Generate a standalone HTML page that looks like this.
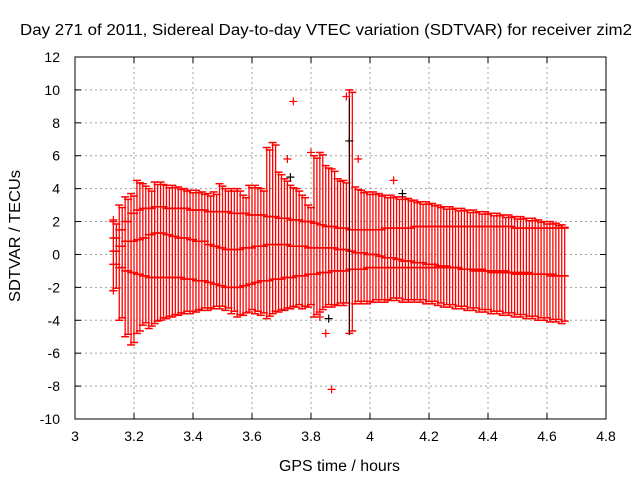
<!DOCTYPE html>
<html><head><meta charset="utf-8"><style>
body{margin:0;background:#fff;}
svg text{font-family:"Liberation Sans",sans-serif;font-size:14px;fill:#000;}
</style></head><body>
<svg id="chart" width="640" height="480" xmlns="http://www.w3.org/2000/svg">
<rect width="640" height="480" fill="#fff"/>
<text x="20" y="35" textLength="612" lengthAdjust="spacingAndGlyphs" style="font-size:15.5px">Day 271 of 2011, Sidereal Day-to-day VTEC variation (SDTVAR) for receiver zim2</text>
<text x="279" y="471" textLength="121" lengthAdjust="spacingAndGlyphs" style="font-size:15.5px">GPS time / hours</text>
<text transform="translate(20,302) rotate(-90)" textLength="132" lengthAdjust="spacingAndGlyphs" style="font-size:15.5px">SDTVAR / TECUs</text>
<g id="grid"></g><g id="marks"></g><g id="axes"></g>
</svg>
<script>
const xTicks=[3,3.2,3.4,3.6,3.8,4,4.2,4.4,4.6,4.8];
const yTicks=[-10,-8,-6,-4,-2,0,2,4,6,8,10,12];
const xStart=3.13, xStep=0.02;
const hi=[2.0,3.0,3.5,3.7,4.5,4.3,4.0,4.4,4.4,4.2,4.2,4.1,4.0,3.9,3.9,3.8,3.7,3.8,4.3,4.0,4.0,4.0,3.6,4.2,4.2,4.0,6.5,6.8,5.0,4.6,4.2,4.0,3.6,3.0,6.0,6.2,5.4,5.2,4.6,4.5,10.0,4.1,3.9,3.8,3.8,3.7,3.6,3.6,3.5,3.5,3.4,3.3,3.2,3.2,3.1,3.0,2.9,2.9,2.8,2.8,2.7,2.7,2.6,2.6,2.5,2.5,2.4,2.4,2.3,2.3,2.2,2.2,2.1,2.0,2.0,1.9,1.8];
const lo=[-2.2,-4.0,-5.0,-5.5,-4.8,-4.3,-4.5,-4.2,-4.0,-3.9,-3.8,-3.7,-3.6,-3.6,-3.5,-3.4,-3.4,-3.3,-3.3,-3.4,-3.6,-3.8,-3.7,-3.5,-3.6,-3.7,-3.9,-3.6,-3.5,-3.4,-3.3,-3.2,-3.3,-3.2,-3.8,-3.5,-3.2,-3.2,-3.1,-3.1,-4.8,-3.0,-3.0,-3.0,-2.9,-2.9,-2.9,-2.8,-2.8,-2.9,-2.9,-2.9,-2.9,-3.0,-3.0,-3.1,-3.2,-3.2,-3.3,-3.3,-3.4,-3.4,-3.5,-3.5,-3.6,-3.6,-3.7,-3.7,-3.8,-3.8,-3.9,-3.9,-4.0,-4.0,-4.1,-4.1,-4.2];
const upperInner=[1.0,1.5,2.0,2.5,2.7,2.8,2.8,2.9,2.9,2.8,2.8,2.8,2.8,2.7,2.7,2.7,2.6,2.6,2.6,2.6,2.5,2.5,2.5,2.4,2.4,2.4,2.3,2.3,2.2,2.2,2.1,2.1,2.0,2.0,1.9,1.8,1.7,1.7,1.6,1.6,1.5,1.5,1.5,1.5,1.5,1.5,1.6,1.6,1.6,1.6,1.6,1.7,1.7,1.7,1.7,1.7,1.7,1.7,1.7,1.7,1.7,1.7,1.7,1.7,1.7,1.7,1.7,1.7,1.6,1.6,1.6,1.6,1.6,1.6,1.6,1.6,1.6];
const midInner=[0.2,0.5,0.8,0.8,0.9,1.0,1.2,1.3,1.3,1.2,1.1,1.0,1.0,0.9,0.8,0.8,0.6,0.5,0.4,0.3,0.3,0.3,0.4,0.4,0.5,0.5,0.6,0.6,0.6,0.6,0.5,0.5,0.5,0.4,0.4,0.4,0.4,0.4,0.3,0.3,0.2,0.1,0.1,0.0,0.0,-0.1,-0.2,-0.2,-0.3,-0.4,-0.4,-0.5,-0.5,-0.6,-0.6,-0.7,-0.7,-0.8,-0.8,-0.9,-0.9,-1.0,-1.0,-1.0,-1.1,-1.1,-1.1,-1.1,-1.2,-1.2,-1.2,-1.2,-1.2,-1.2,-1.3,-1.3,-1.3];
const lowerInner=[-0.6,-0.8,-1.0,-1.1,-1.2,-1.3,-1.4,-1.4,-1.4,-1.4,-1.4,-1.4,-1.5,-1.5,-1.6,-1.6,-1.7,-1.8,-1.9,-2.0,-2.0,-2.0,-1.9,-1.8,-1.7,-1.6,-1.6,-1.5,-1.5,-1.4,-1.4,-1.3,-1.3,-1.2,-1.2,-1.1,-1.1,-1.0,-1.0,-1.0,-0.9,-0.9,-0.9,-0.8,-0.8,-0.8,-0.8,-0.8,-0.8,-0.8,-0.8,-0.8,-0.8,-0.8,-0.8,-0.8,-0.8,-0.8,-0.8,-0.9,-0.9,-0.9,-0.9,-1.0,-1.0,-1.0,-1.0,-1.1,-1.1,-1.1,-1.1,-1.2,-1.2,-1.2,-1.2,-1.3,-1.3];
const redX=[3.13,3.13,3.74,3.92,3.87,3.85,4.08,3.72,3.80,3.83,3.96];
const redY=[2.1,-2.2,9.3,9.6,-8.2,-4.8,4.5,5.8,6.2,-3.8,5.8];
const blackX=[3.73,4.11,3.86,3.93];
const blackY=[4.7,3.7,-3.9,6.9];

const NS='http://www.w3.org/2000/svg';
const L=75,R=606,T=57,B=419;
const xs=v=>L+(v-3)/(4.8-3)*(R-L);
const ys=v=>B-(v+10)/22*(B-T);
function mk(parent,tag,attrs){const e=document.createElementNS(NS,tag);for(const k in attrs)e.setAttribute(k,attrs[k]);document.getElementById(parent).appendChild(e);return e;}
xTicks.forEach((t,i)=>{
  const x=xs(t);
  if(i>0&&i<xTicks.length-1){const g=mk('grid','line',{x1:x,x2:x,y1:T,y2:B,stroke:'#a0a0a0','stroke-dasharray':'2,3'});
  
  }
  mk('axes','line',{x1:x,x2:x,y1:B,y2:B-6,stroke:'#000'});
  mk('axes','line',{x1:x,x2:x,y1:T,y2:T+6,stroke:'#000'});
  const tx=mk('axes','text',{x:x,y:B+22,'text-anchor':'middle'});tx.textContent=t;
  
  
});
yTicks.forEach((t,i)=>{
  const y=ys(t);
  if(i>0&&i<yTicks.length-1){const g=mk('grid','line',{x1:L,x2:R,y1:y,y2:y,stroke:'#a0a0a0','stroke-dasharray':'2,3'});
  
  }
  mk('axes','line',{x1:L,x2:L+6,y1:y,y2:y,stroke:'#000'});
  mk('axes','line',{x1:R,x2:R-6,y1:y,y2:y,stroke:'#000'});
  const tx=mk('axes','text',{x:L-15,y:y+5,'text-anchor':'end'});tx.textContent=t;
  
  
});
const box=mk('axes','rect',{x:L,y:T,width:R-L,height:B-T,fill:'none',stroke:'#000'});


const n=Math.min(hi.length,lo.length,upperInner.length,midInner.length,lowerInner.length);
const half=xs(xStart+xStep/2)-xs(xStart);
for(let i=0;i<n;i++){
  const x=xs(xStart+i*xStep);
  [0,half].forEach((off,k)=>{
    const px=x+off;
    const h=k?hi[i]-0.15:hi[i], l=k?lo[i]+0.15:lo[i];
    const b=mk('marks','line',{x1:px,x2:px,y1:ys(l),y2:ys(h),stroke:'#f00','stroke-width':1.3});
    
    
    [h,l,upperInner[i],midInner[i],lowerInner[i]].forEach(v=>{
      mk('marks','line',{x1:px-4,x2:px+4,y1:ys(v),y2:ys(v),stroke:'#f00','stroke-width':1.5});
    });
  });
}
function cross(x,y,c){
  const X=xs(x),Y=ys(y);
  return mk('marks','path',{d:`M${X-4},${Y}H${X+4}M${X},${Y-4}V${Y+4}`,stroke:c,'stroke-width':1.2});
}
redX.forEach((x,i)=>{const g=cross(x,redY[i],'#f00');
  
  });
blackX.forEach((x,i)=>{const g=cross(x,blackY[i],'#000');
  
  });
const bb=mk('marks','line',{x1:xs(3.93),x2:xs(3.93),y1:ys(-4.9),y2:ys(9.5),stroke:'#000','stroke-width':1});


</script>
</body></html>
